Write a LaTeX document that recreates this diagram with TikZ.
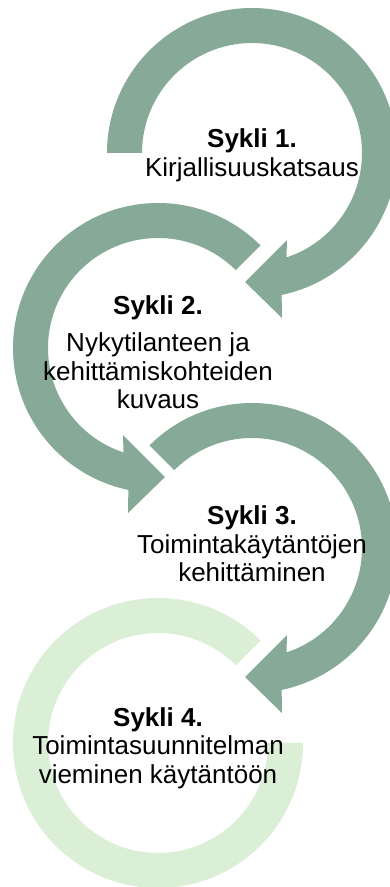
\documentclass[tikz,border=0pt]{standalone}
\usepackage{fontspec}
\setmainfont{Liberation Sans}
\definecolor{cycgreen}{RGB}{135,169,151}
\definecolor{cyclight}{RGB}{219,238,214}

\begin{document}
\begin{tikzpicture}[x=1pt,y=1pt,
    cyctext/.style={align=center,inner sep=0pt,font=\fontsize{26}{28.5}\selectfont}]
  \clip (0,0) rectangle (390,887);
  \fill[white] (0,0) rectangle (390,887);
  % centres of the four cycles
  \coordinate (c1) at (252,734);
  \coordinate (c2) at (158,539);
  \coordinate (c3) at (252,339);
  \coordinate (c4) at (158,144);
  % cycle 1
  \begin{scope}[shift={(c1)}]
    \fill[cycgreen] (180:145pt) arc[start angle=180,end angle=-78.2,radius=145pt]
      -- (-79.7:167.7pt) -- (-93.1:129.2pt) -- (-68.1:93.8pt) -- (-71.7:110pt)
      arc[start angle=-71.7,end angle=180,radius=110pt] -- cycle;
  \end{scope}
  % cycle 2
  \begin{scope}[shift={(c2)}]
    \fill[cycgreen] (45:145pt) arc[start angle=45,end angle=258.2,radius=145pt]
      -- (259.7:167.7pt) -- (273.1:129.2pt) -- (248.1:93.8pt) -- (251.7:110pt)
      arc[start angle=251.7,end angle=45,radius=110pt] -- cycle;
  \end{scope}
  % cycle 3
  \begin{scope}[shift={(c3)}]
    \fill[cycgreen] (135:145pt) arc[start angle=135,end angle=-78.2,radius=145pt]
      -- (-79.7:167.7pt) -- (-93.1:129.2pt) -- (-68.1:93.8pt) -- (-71.7:110pt)
      arc[start angle=-71.7,end angle=135,radius=110pt] -- cycle;
  \end{scope}
  % cycle 4
  \begin{scope}[shift={(c4)}]
    \fill[cyclight] (45:145pt) arc[start angle=45,end angle=360,radius=145pt]
      -- (0:110pt) arc[start angle=360,end angle=45,radius=110pt] -- cycle;
  \end{scope}
  % labels
  \node[cyctext] (t1) at (252,731.6) {\textbf{Sykli 1.}\\Kirjallisuuskatsaus};
  \node[cyctext] (t2) at (158,535) {\textbf{Sykli 2.}\\[9pt]Nykytilanteen ja\\kehittämiskohteiden\\kuvaus};
  \node[cyctext] (t3) at (252,343) {\textbf{Sykli 3.}\\Toimintakäytäntöjen\\kehittäminen};
  \node[cyctext] (t4) at (158,139) {\textbf{Sykli 4.}\\Toimintasuunnitelman\\vieminen käytäntöön};
\end{tikzpicture}
\end{document}
